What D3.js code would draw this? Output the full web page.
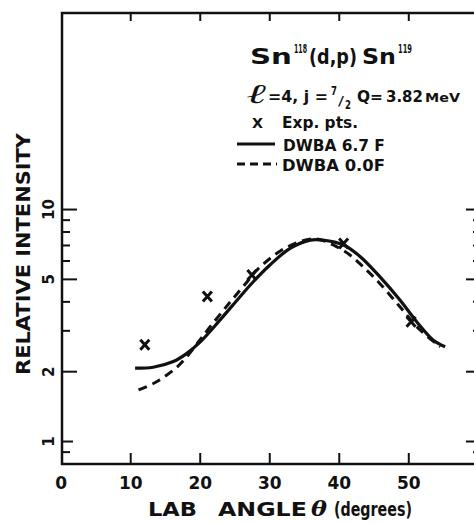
<!DOCTYPE html>
<html>
<head>
<meta charset="utf-8">
<script src="https://cdn.jsdelivr.net/npm/d3@7"></script>
<style>
  body { margin: 0; background: #fff; }
  text { font-family: "DejaVu Sans", sans-serif; font-weight: bold; fill: #111; }
</style>
</head>
<body>
<div id="chart"></div>
<script>
// ---- data ----
const angleTicks = [0, 10, 20, 30, 40, 50];
const intensityMajor = [1, 2, 5, 10];
const intensityMinor = [0.9, 3, 4, 6, 7, 8, 9];

// experimental points (x markers)
const expAngle = [12.1, 21.1, 27.5, 40.7, 50.4];
const expIntensity = [2.6, 4.2, 5.2, 7.1, 3.27];

// DWBA 6.7 F (solid)
const solidAngle = [10.7, 13.3, 16.2, 18.1, 20.0, 22.9, 25.8, 27.7, 30.1, 33.0, 35.9, 37.7, 40.7, 43.1, 45.9, 48.8, 51.2, 53.6, 55.3];
const solidIntensity = [2.06, 2.08, 2.2, 2.38, 2.66, 3.32, 4.19, 4.86, 5.74, 6.77, 7.35, 7.35, 7.0, 6.23, 5.11, 4.05, 3.27, 2.72, 2.55];

// DWBA 0.0 F (dashed)
const dashedAngle = [11.2, 13.8, 16.7, 18.1, 20.0, 21.5, 24.4, 26.8, 28.2, 31.6, 34.4, 36.8, 39.2, 41.6, 43.5, 45.9, 48.8, 51.7, 54.6];
const dashedIntensity = [1.66, 1.8, 2.08, 2.3, 2.72, 3.11, 3.98, 4.85, 5.45, 6.6, 7.23, 7.43, 7.0, 6.34, 5.64, 4.78, 3.79, 3.01, 2.55];

const width = 474, height = 523;

const svg = d3.select("#chart")
  .append("svg")
  .attr("width", width)
  .attr("height", height);

svg.append("rect").attr("width", width).attr("height", height).attr("fill", "#fff");

const x = d3.scaleLinear().domain([0, 60]).range([60.7, 477.8]);
const y = d3.scaleLog().domain([0.8, 70]).range([463.5, 13]);

const frame = { left: 62, right: 478, top: 13, bottom: 464 };

// frame
svg.append("path")
  .attr("d", `M${frame.left},${frame.top}L${frame.right},${frame.top}L${frame.right},${frame.bottom}L${frame.left},${frame.bottom}Z`)
  .attr("fill", "none")
  .attr("stroke", "#111")
  .attr("stroke-width", 2.5);

function styleAxis(g) {
  g.select(".domain").remove();
  g.selectAll(".tick line").attr("stroke", "#111").attr("stroke-width", 2);
}

// bottom ticks + labels
const xAxis = svg.append("g")
  .attr("transform", `translate(0,${frame.bottom})`)
  .call(d3.axisBottom(x).tickValues(angleTicks).tickSize(-11).tickPadding(13).tickFormat(d3.format("d")))
  .call(styleAxis);
xAxis.selectAll(".tick").filter(d => d === 0).select("line").remove();
xAxis.selectAll("text").attr("font-size", 17).attr("fill", "#111")
  .style("font-family", "DejaVu Sans").style("font-weight", "bold");

// top ticks
svg.append("g")
  .attr("transform", `translate(0,${frame.top})`)
  .call(d3.axisTop(x).tickValues(angleTicks.slice(1)).tickSize(-8).tickFormat(""))
  .call(styleAxis);

// left ticks (major with rotated labels, minor)
const yAxis = svg.append("g")
  .attr("transform", `translate(${frame.left},0)`)
  .call(d3.axisLeft(y).tickValues(intensityMajor).tickSize(-15).tickFormat(d3.format("d")))
  .call(styleAxis);
yAxis.selectAll(".tick").filter(d => d === 1).select("line").attr("x2", 11);
yAxis.selectAll("text")
  .attr("transform", "rotate(-90)")
  .attr("x", 0)
  .attr("y", -8)
  .attr("dy", 0)
  .attr("text-anchor", "middle")
  .attr("font-size", 15)
  .attr("fill", "#111")
  .style("font-family", "DejaVu Sans").style("font-weight", "bold");

svg.append("g")
  .attr("transform", `translate(${frame.left},0)`)
  .call(d3.axisLeft(y).tickValues(intensityMinor).tickSize(-8).tickFormat(""))
  .call(styleAxis);

// right ticks
svg.append("g")
  .attr("transform", `translate(${frame.right},0)`)
  .call(d3.axisRight(y).tickValues(intensityMajor).tickSize(-12).tickFormat(""))
  .call(styleAxis);
svg.append("g")
  .attr("transform", `translate(${frame.right},0)`)
  .call(d3.axisRight(y).tickValues(intensityMinor).tickSize(-5).tickFormat(""))
  .call(styleAxis);

// curves
const line = d3.line()
  .x(d => x(d[0]))
  .y(d => y(d[1]))
  .curve(d3.curveCatmullRom);

svg.append("path")
  .datum(d3.zip(dashedAngle, dashedIntensity))
  .attr("fill", "none")
  .attr("stroke", "#111")
  .attr("stroke-width", 3)
  .attr("stroke-dasharray", "9,6")
  .attr("d", line);

svg.append("path")
  .datum(d3.zip(solidAngle, solidIntensity))
  .attr("fill", "none")
  .attr("stroke", "#111")
  .attr("stroke-width", 3.2)
  .attr("d", line);

// experimental points
svg.append("g")
  .selectAll("path")
  .data(d3.zip(expAngle, expIntensity))
  .join("path")
  .attr("transform", d => `translate(${x(d[0])},${y(d[1])})`)
  .attr("d", "M-4.5,-5L4.5,5M-4.5,5L4.5,-5")
  .attr("stroke", "#111")
  .attr("stroke-width", 3);

// text helper: squeeze / stretch the text horizontally to a given width
function label(str, px, py, size, len, opts = {}) {
  const t = svg.append("text")
    .attr("font-size", size)
    .text(str);
  if (opts.italic) t.style("font-style", "italic");
  if (opts.family) t.style("font-family", opts.family);
  if (opts.weight) t.style("font-weight", opts.weight);
  const natural = t.node().getComputedTextLength();
  const sx = len ? len / natural : 1;
  t.attr("transform", `translate(${px},${py}) scale(${sx},1)`);
  return t;
}

// axis titles
label("LAB", 148, 516, 19, 49);
label("ANGLE", 218, 516, 19, 89);
label("θ", 311, 516, 21, 16, { italic: true, family: "DejaVu Serif" });
label("(degrees)", 334, 516, 19, 78);

svg.append("text")
  .attr("transform", "translate(30,375) rotate(-90)")
  .attr("font-size", 19)
  .attr("textLength", 242)
  .attr("lengthAdjust", "spacingAndGlyphs")
  .text("RELATIVE  INTENSITY");

// legend / annotation
label("Sn", 250, 64, 21, 42);
label("118", 294, 53, 12, 13);
label("(d,p)", 309, 64, 21, 48);
label("Sn", 362, 64, 21, 34);
label("119", 398, 53, 12, 14);

label("ℓ", 247, 103, 27, 20, { italic: true, family: "DejaVu Serif" });
label("=4, j =", 268, 102, 15, 60);
label("7", 331, 95, 12, 6);
label("/", 338, 105, 13, 6, { weight: "normal" });
label("2", 345, 109, 12, 6);
label("Q=", 357, 102, 15, 26);
label("3.82", 386, 102, 16, 37);
label("MeV", 425, 102, 13, 35);

label("X", 252, 128, 14, 11);
label("Exp. pts.", 282, 128, 15, 76);

svg.append("line")
  .attr("x1", 237).attr("x2", 275).attr("y1", 144).attr("y2", 144)
  .attr("stroke", "#111").attr("stroke-width", 3);
label("DWBA 6.7 F", 283, 151, 15, 102);

svg.append("line")
  .attr("x1", 237).attr("x2", 277).attr("y1", 164).attr("y2", 164)
  .attr("stroke", "#111").attr("stroke-width", 3)
  .attr("stroke-dasharray", "8,5");
label("DWBA 0.0F", 282, 171, 15, 103);
</script>
</body>
</html>
